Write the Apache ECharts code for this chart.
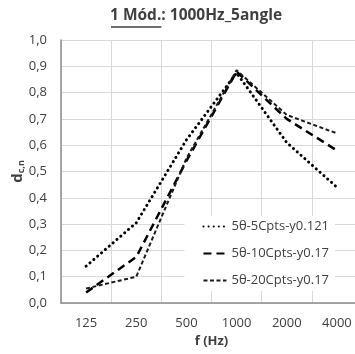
<!DOCTYPE html>
<html>
<head>
<meta charset="utf-8">
<script src="https://cdn.jsdelivr.net/npm/echarts@6/dist/echarts.min.js"></script>
<style>
  html, body { margin: 0; padding: 0; background: #fff; }
  #chart { width: 355px; height: 354px; }
</style>
</head>
<body>
<div id="chart"></div>
<script>
// Frequency bands (Hz)
const frequencies = ['125', '250', '500', '1000', '2000', '4000'];

// Series names
const seriesNames = ['5θ-5Cpts-y0.121', '5θ-10Cpts-y0.17', '5θ-20Cpts-y0.17'];

// d_c,n values per band
const dotted5C   = [0.14, 0.305, 0.62, 0.875, 0.61, 0.44];
const dashed10C  = [0.04, 0.175, 0.54, 0.88, 0.70, 0.58];
const dashed20C  = [0.055, 0.10, 0.55, 0.885, 0.715, 0.645];

const FONT = '"Open Sans", "DejaVu Sans", sans-serif';
const TEXT = '#404040';

// Title pieces; the first one is underlined
const titleHead = '1 Mód.';
const titleTail = ': 1000Hz_5angle';
const titleSize = 15.5;
const titleLeft = 110;
const titleTop = 8;

const chart = echarts.init(document.getElementById('chart'), null, { renderer: 'canvas' });

// width of the underlined part, measured with the chart's own text metrics
const headW = echarts.format.getTextRect
  ? echarts.format.getTextRect(titleHead, 'bold ' + titleSize + 'px ' + FONT).width
  : 50;

chart.setOption({
  backgroundColor: '#fff',
  animation: false,
  title: {
    text: '{u|' + titleHead + '}{n|' + titleTail + '}',
    left: titleLeft,
    top: titleTop,
    padding: 0,
    textStyle: {
      rich: {
        u: { fontFamily: FONT, fontWeight: 'bold', fontSize: titleSize, color: TEXT },
        n: { fontFamily: FONT, fontWeight: 'bold', fontSize: titleSize, color: TEXT }
      }
    }
  },
  graphic: [{
    type: 'line',
    shape: { x1: titleLeft + 1, y1: 27, x2: titleLeft + headW, y2: 27 },
    style: { stroke: TEXT, lineWidth: 1.3 }
  }],
  grid: {
    left: 61, top: 40, right: -7, bottom: 51,
    outerBoundsMode: 'none'
  },
  legend: {
    orient: 'vertical',
    right: 20,
    top: 216,
    itemWidth: 23,
    itemHeight: 10,
    itemGap: 14,
    padding: [4, 6, 4, 18],
    backgroundColor: '#fff',
    itemStyle: { opacity: 0 },
    textStyle: { fontFamily: FONT, fontSize: 13, color: TEXT },
    data: seriesNames
  },
  xAxis: {
    type: 'category',
    data: frequencies,
    boundaryGap: true,
    name: 'f (Hz)',
    nameLocation: 'middle',
    nameGap: 32,
    nameMoveOverlap: false,
    nameTextStyle: { fontFamily: FONT, fontWeight: 'bold', fontSize: 13, color: TEXT },
    axisLine: { lineStyle: { color: '#8c8c8c', width: 1.5 } },
    axisTick: { show: false },
    axisLabel: { fontFamily: FONT, fontSize: 13, color: TEXT, margin: 14 },
    splitLine: { show: true, interval: 0, lineStyle: { color: '#d9d9d9', width: 1 } }
  },
  yAxis: {
    type: 'value',
    min: 0, max: 1, interval: 0.1,
    name: '{d|d}{s|c,n}',
    nameLocation: 'middle',
    nameRotate: 90,
    nameGap: 35,
    nameMoveOverlap: false,
    nameTextStyle: {
      rich: {
        d: { fontFamily: FONT, fontWeight: 'bold', fontSize: 15, color: TEXT },
        s: { fontFamily: FONT, fontWeight: 'bold', fontSize: 9, color: TEXT, verticalAlign: 'bottom', padding: [7, 0, 0, 0] }
      }
    },
    axisLine: { show: true, lineStyle: { color: '#8c8c8c', width: 1.5 } },
    axisTick: { show: false },
    axisLabel: {
      fontFamily: FONT, fontSize: 13, color: TEXT, margin: 14,
      formatter: v => v.toFixed(1).replace('.', ',')
    },
    splitLine: { show: true, lineStyle: { color: '#d9d9d9', width: 1 } }
  },
  series: [
    {
      name: seriesNames[0], type: 'line', data: dotted5C,
      symbol: 'none', itemStyle: { color: '#000' },
      lineStyle: { color: '#000', width: 3, type: [0.1, 5], cap: 'round' }
    },
    {
      name: seriesNames[1], type: 'line', data: dashed10C,
      symbol: 'none', itemStyle: { color: '#000' },
      lineStyle: { color: '#000', width: 2.5, type: [8, 5] }
    },
    {
      name: seriesNames[2], type: 'line', data: dashed20C,
      symbol: 'none', itemStyle: { color: '#1a1a1a' },
      lineStyle: { color: '#1a1a1a', width: 2, type: [4, 2.5] }
    }
  ]
});
</script>
</body>
</html>
